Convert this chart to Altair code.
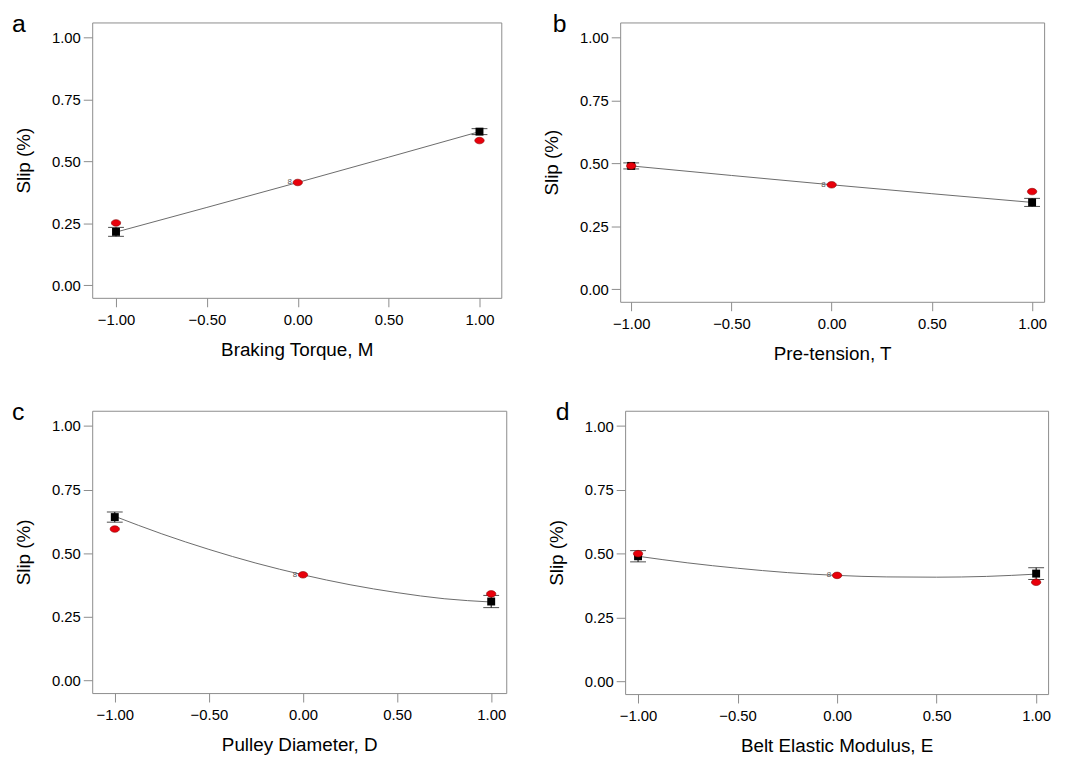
import altair as alt
import pandas as pd

FONT = "Liberation Sans"

# ---- data ----
ends = [-1.0, 1.0]
center_x = [0.0]
curve_x = [-1.0, -0.75, -0.5, -0.25, 0.0, 0.25, 0.5, 0.75, 1.0]

# panel a : Braking Torque
a_line_x = [-1.0, 0.0, 1.0]
a_line_y = [0.215, 0.415, 0.62]
a_pred = [0.216, 0.620]
a_err = [0.018, 0.012]
a_act = [0.252, 0.584]
a_center = [0.415]

# panel b : Pre-tension
b_line_x = [-1.0, 0.0, 1.0]
b_line_y = [0.490, 0.415, 0.345]
b_pred = [0.490, 0.345]
b_err = [0.012, 0.016]
b_act = [0.490, 0.388]
b_center = [0.415]

# panel c : Pulley Diameter
c_line_x = curve_x
c_line_y = [0.645, 0.576, 0.515, 0.461, 0.415, 0.376, 0.345, 0.321, 0.308]
c_pred = [0.642, 0.310]
c_err = [0.020, 0.024]
c_act = [0.595, 0.340]
c_center = [0.415]

# panel d : Belt Elastic Modulus
d_line_x = curve_x
d_line_y = [0.490, 0.464, 0.443, 0.426, 0.415, 0.409, 0.408, 0.411, 0.420]
d_pred = [0.490, 0.422]
d_err = [0.022, 0.023]
d_act = [0.500, 0.388]
d_center = [0.415]

y_ticks = [0.0, 0.25, 0.5, 0.75, 1.0]
x_ticks = [-1.0, -0.5, 0.0, 0.5, 1.0]

ELLIPSE = "M -1 0 A 1 0.7 0 1 0 1 0 A 1 0.7 0 1 0 -1 0 Z"


def panel(letter, xtitle, lx, ly, pred, err, act, cen, width, height, xdom, letter_dx, letter_dy):
    line_df = pd.DataFrame({"x": lx, "y": ly})
    pts = pd.DataFrame({
        "x": ends,
        "pred": pred,
        "lo": [p - e for p, e in zip(pred, err)],
        "hi": [p + e for p, e in zip(pred, err)],
    })
    act_df = pd.DataFrame({"x": ends + center_x, "y": act + cen})
    cen_df = pd.DataFrame({"x": center_x, "y": cen, "t": ["8"]})

    xs = alt.Scale(domain=xdom, nice=False, zero=False)
    ys = alt.Scale(domain=[-0.05, 1.06], nice=False, zero=False)
    X = alt.X("x:Q", scale=xs, title=xtitle,
              axis=alt.Axis(values=x_ticks, format=".2f"))
    Y = alt.Y("y:Q", scale=ys, title="Slip (%)",
              axis=alt.Axis(values=y_ticks, format=".2f"))

    line = alt.Chart(line_df).mark_line(
        color="#6a6a6a", strokeWidth=1, interpolate="monotone"
    ).encode(x=X, y=Y)

    rule = alt.Chart(pts).mark_rule(color="black", strokeWidth=1).encode(
        x=alt.X("x:Q", scale=xs), y=alt.Y("lo:Q", scale=ys), y2="hi:Q")
    cap_lo = alt.Chart(pts).mark_tick(
        orient="horizontal", size=16, thickness=1, color="black"
    ).encode(x=alt.X("x:Q", scale=xs), y=alt.Y("lo:Q", scale=ys))
    cap_hi = alt.Chart(pts).mark_tick(
        orient="horizontal", size=16, thickness=1, color="black"
    ).encode(x=alt.X("x:Q", scale=xs), y=alt.Y("hi:Q", scale=ys))
    sq = alt.Chart(pts).mark_square(
        size=64, color="black", opacity=1, filled=True
    ).encode(x=alt.X("x:Q", scale=xs), y=alt.Y("pred:Q", scale=ys))

    red = alt.Chart(act_df).mark_point(
        shape=ELLIPSE, size=90, filled=True, fill="#e8000b",
        stroke="#8a0000", strokeWidth=0.6, opacity=1
    ).encode(x=alt.X("x:Q", scale=xs), y=alt.Y("y:Q", scale=ys))

    eight = alt.Chart(cen_df).mark_text(
        font=FONT, fontSize=8, color="#555555", align="right", dx=-6, dy=0,
        baseline="middle"
    ).encode(x=alt.X("x:Q", scale=xs), y=alt.Y("y:Q", scale=ys), text="t:N")

    lab = alt.Chart(pd.DataFrame({"t": [letter]})).mark_text(
        font=FONT, fontSize=25, color="black", align="left", baseline="alphabetic"
    ).encode(x=alt.value(letter_dx), y=alt.value(letter_dy), text="t:N")

    return alt.layer(line, rule, cap_lo, cap_hi, sq, red, eight, lab).properties(
        width=width, height=height)


pa = panel("a", "Braking Torque, M", a_line_x, a_line_y, a_pred, a_err, a_act, a_center,
           413, 278, [-1.131, 1.12], -81, 10)
pb = panel("b", "Pre-tension, T", b_line_x, b_line_y, b_pred, b_err, b_act, b_center,
           428, 282, [-1.055, 1.06], -68, 10)
pc = panel("c", "Pulley Diameter, D", c_line_x, c_line_y, c_pred, c_err, c_act, c_center,
           418, 285, [-1.12, 1.08], -81, 9)
pd_ = panel("d", "Belt Elastic Modulus, E", d_line_x, d_line_y, d_pred, d_err, d_act, d_center,
            427, 286, [-1.065, 1.06], -70, 9)

chart = alt.vconcat(
    alt.hconcat(pa, pb, spacing=40),
    alt.hconcat(pc, pd_, spacing=40),
    spacing=35,
).properties(
    background="white",
    padding={"left": 3, "top": 0, "right": 5, "bottom": 5},
).configure_view(
    stroke="#8c8c8c", strokeWidth=1
).configure_axis(
    labelFont=FONT, titleFont=FONT, labelFontSize=15, titleFontSize=19,
    labelColor="black", titleColor="black", titleFontWeight="normal",
    domain=False, grid=False, tickColor="#8c8c8c", tickSize=9,
).configure_axisY(
    titlePadding=18, labelPadding=3
).configure_axisX(
    titlePadding=13, labelPadding=6
)

chart.save("out.html", embed_options={"renderer": "svg", "actions": False})
